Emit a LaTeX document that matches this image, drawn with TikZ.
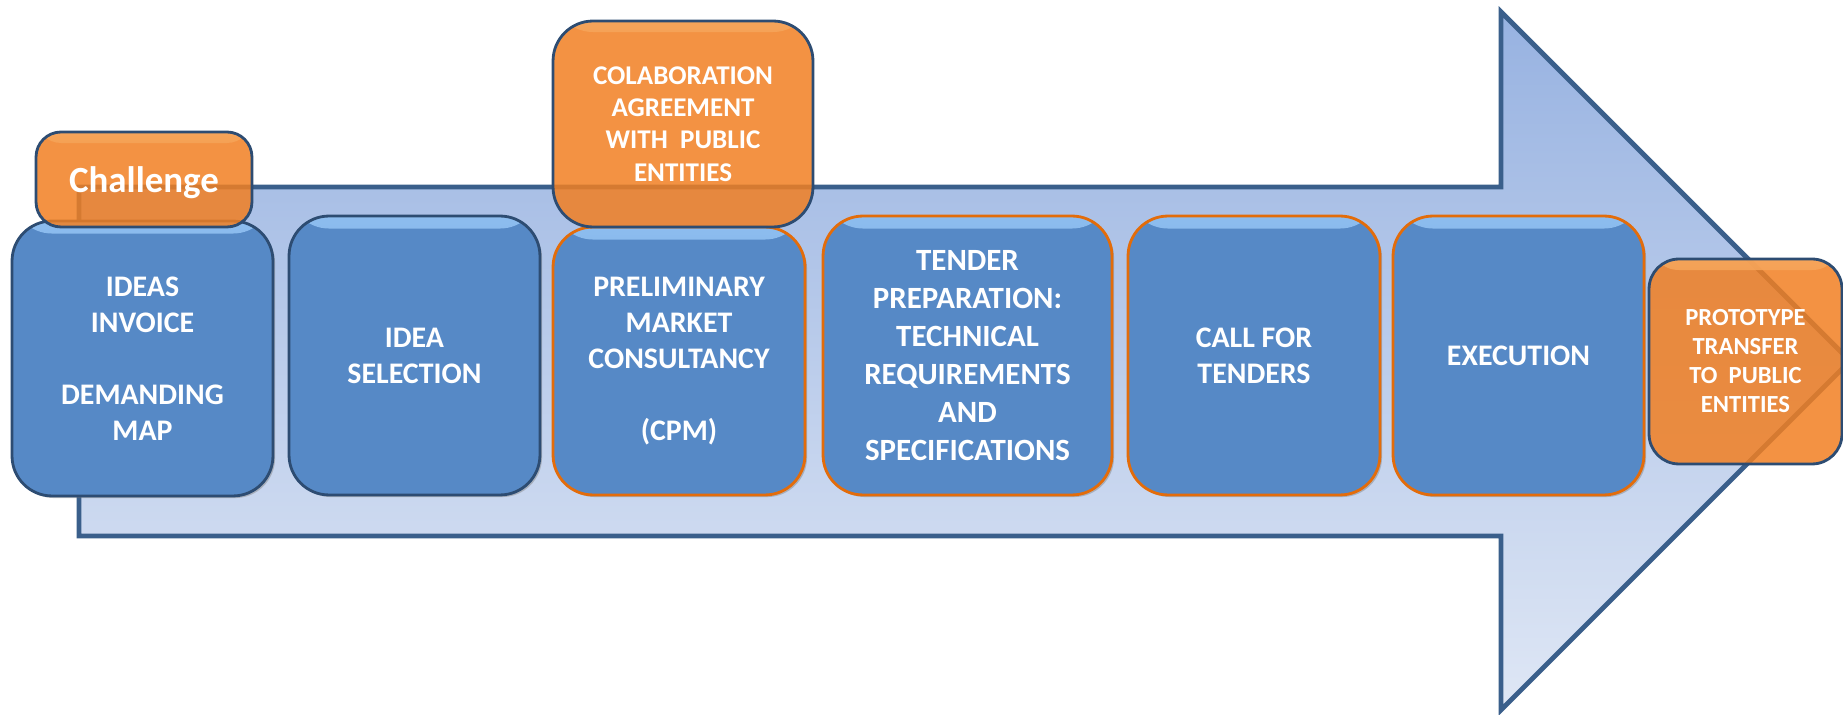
\documentclass[tikz,border=0pt]{standalone}
\usepackage{fontspec}
\setmainfont{Carlito}
\usetikzlibrary{shadows}
\definecolor{arrowline}{HTML}{3A5F8B}
\definecolor{arrowtop}{HTML}{97B2E1}
\definecolor{arrowbot}{HTML}{DFE7F5}
\definecolor{stepblue}{HTML}{5689C6}
\definecolor{stephigh}{HTML}{8DBDEF}
\definecolor{stepedge}{HTML}{2D4C72}
\definecolor{steporange}{HTML}{E36C0A}
\definecolor{notefill}{HTML}{F17F22}
\definecolor{notehigh}{HTML}{F6A85E}

\begin{document}
\begin{tikzpicture}[x=0.02cm,y=-0.02cm,
  stepbox/.style={draw=stepedge, line width=1.6pt, fill=stepblue,
    rounded corners=0.8cm, text=white, align=center, inner sep=0pt,
    font=\bfseries\fontsize{17}{20.5}\selectfont,
    drop shadow={shadow xshift=1.2pt, shadow yshift=-1.2pt, opacity=0.45},
    path picture={\shade[top color=stephigh, bottom color=stepblue]
      (path picture bounding box.north west) rectangle
      ([yshift=-0.25cm]path picture bounding box.north east);}},
  hot/.style={draw=steporange},
  notebox/.style={draw=stepedge, line width=1.6pt, fill=notefill,
    fill opacity=0.85, text opacity=1, text=white, align=center,
    inner sep=0pt, font=\bfseries\fontsize{15.4}{18.3}\selectfont,
    path picture={\shade[top color=notehigh, bottom color=notefill]
      (path picture bounding box.north west) rectangle
      ([yshift=-0.22cm]path picture bounding box.north east);}}]
\useasboundingbox (0,0) rectangle (1843,715);

% big arrow behind the steps
\draw [arrowline, line width=2.8pt, top color=arrowtop, bottom color=arrowbot]
  (79,187) -- (1501,187) -- (1501,12) -- (1850,361) -- (1501,710)
  -- (1501,536) -- (79,536) -- cycle;

% steps
\node [stepbox, minimum width=5.22cm, minimum height=5.5cm] (ideas)
  at (142.5,358.5) {IDEAS\\INVOICE\\[20.5pt]DEMANDING\\MAP};
\node [stepbox, minimum width=5.02cm, minimum height=5.58cm] (selection)
  at (414.5,355.5) {IDEA\\SELECTION};
\node [stepbox, hot, minimum width=5.04cm, minimum height=5.36cm] (cpm)
  at (679,361) {PRELIMINARY\\MARKET\\CONSULTANCY\\[20.5pt](CPM)};
\node [stepbox, hot, minimum width=5.78cm, minimum height=5.58cm,
  font=\bfseries\fontsize{17.6}{21.6}\selectfont] (tender)
  at (967.5,355.5) {TENDER\\PREPARATION:\\TECHNICAL\\REQUIREMENTS\\AND\\SPECIFICATIONS};
\node [stepbox, hot, minimum width=5.04cm, minimum height=5.58cm] (call)
  at (1254,355.5) {CALL FOR\\TENDERS};
\node [stepbox, hot, minimum width=5.02cm, minimum height=5.58cm] (execution)
  at (1518.5,355.5) {EXECUTION};

% orange notes on top
\node [notebox, rounded corners=0.5cm, minimum width=4.32cm, minimum height=1.9cm,
  font=\bfseries\fontsize{21}{25}\selectfont, text depth=0pt] (challenge)
  at (144,179.5) {Challenge};
\node [notebox, rounded corners=0.8cm, minimum width=5.2cm, minimum height=4.12cm]
  (agreement) at (683,124) {COLABORATION\\AGREEMENT\\WITH\ \ PUBLIC\\ENTITIES};
\node [notebox, rounded corners=0.6cm, minimum width=3.86cm, minimum height=4.1cm,
  font=\bfseries\fontsize{14}{16.5}\selectfont] (transfer)
  at (1745.5,361.5) {PROTOTYPE\\TRANSFER\\TO\ \ PUBLIC\\ENTITIES};
\end{tikzpicture}
\end{document}
